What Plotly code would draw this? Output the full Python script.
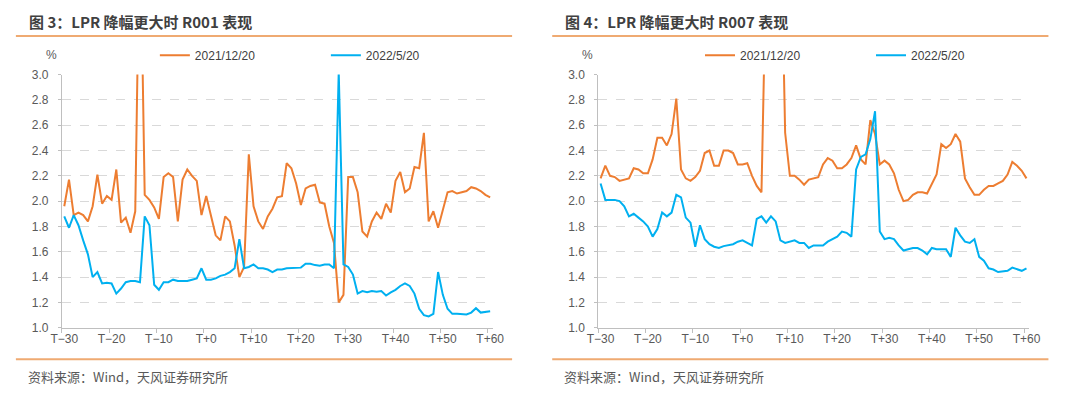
import plotly.graph_objects as go

# ---------------- data ----------------
offsets = list(range(-30, 61))
categories = ["T" + ("+" if t >= 0 else "\u2212") + str(abs(t)) for t in offsets]

series_names = ["2021/12/20", "2022/5/20"]

r001_2021 = [
    1.96, 2.17, 1.89, 1.91, 1.89, 1.84, 1.96, 2.21, 1.98, 2.04,
    2.01, 2.25, 1.83, 1.87, 1.75, 1.92, 4.30, 2.05, 2.01, 1.95,
    1.86, 2.19, 2.22, 2.19, 1.84, 2.17, 2.25, 2.20, 2.16, 1.89,
    2.04, 1.88, 1.73, 1.69, 1.88, 1.84, 1.65, 1.40, 1.48, 2.37,
    1.96, 1.84, 1.78, 1.88, 1.94, 2.03, 2.04, 2.30, 2.26, 2.14,
    1.97, 2.10, 2.12, 2.13, 1.99, 1.98, 1.80, 1.67, 1.20, 1.26,
    2.19, 2.19, 2.07, 1.76, 1.72, 1.84, 1.91, 1.86, 1.98, 1.91,
    2.16, 2.23, 2.07, 2.10, 2.27, 2.26, 2.54, 1.84, 1.92, 1.79,
    1.92, 2.07, 2.08, 2.06, 2.07, 2.08, 2.11, 2.10, 2.08, 2.05,
    2.03,
]
r001_2022 = [
    1.88, 1.79, 1.89, 1.81, 1.69, 1.58, 1.40, 1.44, 1.35, 1.355,
    1.35, 1.27, 1.31, 1.36, 1.37, 1.37, 1.36, 1.88, 1.81, 1.34,
    1.30, 1.36, 1.36, 1.38, 1.37, 1.37, 1.37, 1.38, 1.39, 1.47,
    1.38, 1.38, 1.39, 1.41, 1.42, 1.44, 1.47, 1.70, 1.47, 1.48,
    1.50, 1.47, 1.47, 1.46, 1.44, 1.46, 1.46, 1.47, 1.47, 1.47,
    1.475, 1.505, 1.505, 1.495, 1.49, 1.50, 1.50, 1.47, 3.02, 1.50,
    1.48, 1.42, 1.27, 1.29, 1.28, 1.29, 1.285, 1.29, 1.255, 1.28,
    1.30, 1.33, 1.35, 1.33, 1.27, 1.15, 1.10, 1.09, 1.11, 1.44,
    1.26, 1.15, 1.11, 1.11, 1.105, 1.105, 1.12, 1.155, 1.12, 1.125,
    1.13,
]
r007_2021 = [
    2.18, 2.28, 2.20, 2.19, 2.16, 2.17, 2.18, 2.26, 2.25, 2.22,
    2.22, 2.33, 2.50, 2.50, 2.44, 2.53, 2.81, 2.25, 2.18, 2.16,
    2.19, 2.24, 2.38, 2.40, 2.28, 2.28, 2.40, 2.40, 2.38, 2.29,
    2.29, 2.30, 2.20, 2.12, 2.07, 3.90, 4.50, 4.80, 4.40, 2.54,
    2.20, 2.20, 2.17, 2.13, 2.17, 2.18, 2.19, 2.29, 2.34, 2.32,
    2.26, 2.26, 2.29, 2.34, 2.44, 2.33, 2.29, 2.64, 2.53, 2.29,
    2.32, 2.29, 2.22, 2.09, 2.00, 2.01, 2.05, 2.07, 2.07, 2.06,
    2.14, 2.21, 2.45, 2.42, 2.45, 2.53, 2.47, 2.18, 2.11, 2.05,
    2.05, 2.09, 2.12, 2.12, 2.14, 2.16, 2.21, 2.31, 2.28, 2.24,
    2.18,
]
r007_2022 = [
    2.14, 2.01, 2.01, 2.01, 2.00, 1.96, 1.88, 1.90, 1.87, 1.84,
    1.80, 1.72, 1.78, 1.91, 1.88, 1.91, 2.05, 2.03, 1.87, 1.83,
    1.64, 1.81, 1.70, 1.66, 1.64, 1.63, 1.645, 1.65, 1.66, 1.68,
    1.69, 1.67, 1.65, 1.86, 1.88, 1.83, 1.88, 1.84, 1.69, 1.67,
    1.68, 1.69, 1.67, 1.67, 1.63, 1.65, 1.65, 1.65, 1.68, 1.70,
    1.72, 1.76, 1.75, 1.72, 2.25, 2.35, 2.37, 2.49, 2.71, 1.76,
    1.70, 1.71, 1.70, 1.65, 1.61, 1.62, 1.63, 1.63, 1.61, 1.58,
    1.63, 1.62, 1.62, 1.62, 1.56, 1.79, 1.73, 1.68, 1.67, 1.70,
    1.56, 1.53, 1.47, 1.46, 1.44, 1.445, 1.45, 1.475, 1.46, 1.45,
    1.47,
]

panel_titles = ["图 3：LPR 降幅更大时 R001 表现", "图 4：LPR 降幅更大时 R007 表现"]
source_text = "资料来源：Wind，天风证券研究所"
unit_text = "%"

# ---------------- styles ----------------
W, H = 1080, 397
ORANGE = "#ED7D31"
BLUE = "#00B0F0"
RULE = "#EFAA72"
AXIS = "#BFBFBF"
GRID = "#D9D9D9"
TXT = "#595959"
TITLE = "#404040"
FONT = "Liberation Sans, Arial, Noto Sans CJK SC, sans-serif"
CJK = "Noto Sans CJK SC, sans-serif"


def px_x(v):
    return v / W


def px_y(v):
    return 1 - v / H


fig = go.Figure()

panels = [
    dict(xa="x", ya="y", leg="legend", data=(r001_2021, r001_2022)),
    dict(xa="x2", ya="y2", leg="legend2", data=(r007_2021, r007_2022)),
]

for p in panels:
    for name, vals, col in zip(series_names, p["data"], (ORANGE, BLUE)):
        fig.add_trace(go.Scatter(
            x=categories, y=vals, name=name, mode="lines",
            line=dict(color=col, width=2),
            xaxis=p["xa"], yaxis=p["ya"], legend=p["leg"],
            hoverinfo="skip",
        ))

ydom = [px_y(332.5), px_y(70)]


def xaxis_cfg(x0, x1, anchor):
    return dict(
        domain=[px_x(x0), px_x(x1)], anchor=anchor,
        type="category", range=[-0.5, 90.5],
        tickmode="linear", tick0=0, dtick=10, tickson="boundaries",
        tickangle=0,
        ticks="outside", ticklen=4, tickcolor=AXIS, tickwidth=1,
        showline=True, linecolor=AXIS, linewidth=1,
        showgrid=False, zeroline=False,
        tickfont=dict(family=FONT, size=12, color=TXT),
        fixedrange=True,
    )


def yaxis_cfg(anchor):
    return dict(
        domain=ydom, anchor=anchor,
        range=[1.0, 3.0], tick0=1.0, dtick=0.2, tickformat=".1f",
        showgrid=True, gridcolor=GRID, griddash="dash", gridwidth=1,
        showline=True, linecolor=AXIS, linewidth=1,
        ticks="outside", ticklen=3, tickcolor=AXIS,
        ticklabelstandoff=7,
        zeroline=False,
        tickfont=dict(family=FONT, size=12, color=TXT),
        fixedrange=True,
    )


def legend_cfg(x_left):
    return dict(
        orientation="h", x=px_x(x_left), y=px_y(50), xanchor="left", yanchor="middle",
        font=dict(family=FONT, size=12, color=TITLE),
        bgcolor="rgba(0,0,0,0)", borderwidth=0,
        entrywidth=126, entrywidthmode="pixels", itemwidth=30,
        tracegroupgap=0,
    )


fig.update_layout(
    width=W, height=H, autosize=False,
    margin=dict(l=0, r=0, t=0, b=0),
    paper_bgcolor="white", plot_bgcolor="white",
    showlegend=True,
    xaxis=xaxis_cfg(52, 492, "y"),
    yaxis=yaxis_cfg("x"),
    xaxis2=xaxis_cfg(600, 1040, "y2"),
    yaxis2=yaxis_cfg("x2"),
    legend=legend_cfg(147),
    legend2=legend_cfg(704),
)

shapes = []
annotations = []
for i, (t, left, right) in enumerate(zip(panel_titles, (5, 553), (512, 1060))):
    for yy in (30, 365):
        shapes.append(dict(type="line", xref="paper", yref="paper",
                           x0=px_x(left), x1=px_x(right), y0=px_y(yy), y1=px_y(yy),
                           line=dict(color=RULE, width=2)))
    annotations.append(dict(text="<b>" + t + "</b>", xref="paper", yref="paper",
                            x=px_x(left + 11), y=px_y(15), xanchor="left", yanchor="middle",
                            showarrow=False, font=dict(family=CJK, size=15, color=TITLE)))
    annotations.append(dict(text=source_text, xref="paper", yref="paper",
                            x=px_x(left + 10), y=px_y(383), xanchor="left", yanchor="middle",
                            showarrow=False, font=dict(family=CJK, size=13, color=TXT)))
    annotations.append(dict(text=unit_text, xref="paper", yref="paper",
                            x=px_x(left + 36), y=px_y(50), xanchor="center", yanchor="middle",
                            showarrow=False, font=dict(family=FONT, size=12, color=TXT)))

fig.update_layout(shapes=shapes, annotations=annotations)

fig.write_html(
    "out.html", include_plotlyjs=True, config={"displayModeBar": False},
    post_script="document.body.style.margin='0';document.body.style.overflow='hidden';",
)
